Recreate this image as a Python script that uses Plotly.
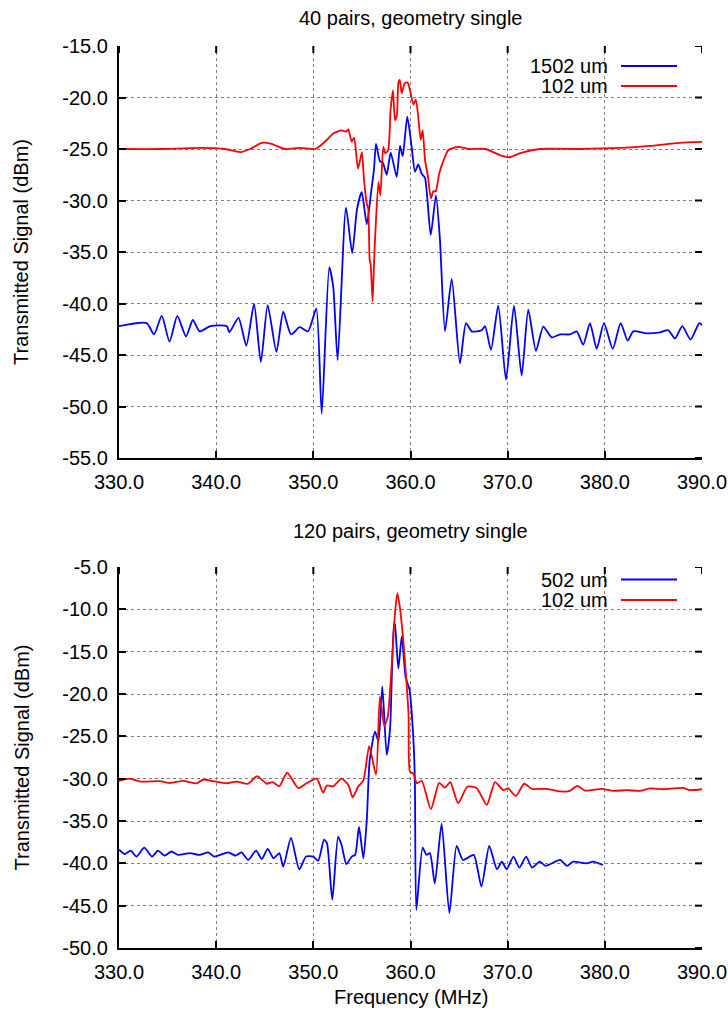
import plotly.graph_objects as go

# ---------------- data ----------------
freq_top_1502 = [330.0, 332.85, 333.6, 334.4, 335.2, 336.0, 336.9, 337.6, 338.3, 339.4, 341.1, 341.35, 342.3, 343.1, 343.9,
                 344.6, 345.3, 346.2, 346.9, 347.7, 348.6, 349.45, 350.3, 350.86, 351.64, 352.05, 352.5, 353.36, 354.0,
                 354.5, 354.98, 355.5, 355.93, 356.24, 356.45, 356.86, 357.14, 357.55, 357.96, 358.58, 358.92, 359.2,
                 359.67, 360.12, 360.46, 360.8, 361.15, 361.49, 362.08, 362.62, 363.03, 363.55, 364.24, 365.09, 365.71,
                 366.3, 367.33, 367.67, 368.28, 369.03, 369.83, 370.65, 371.44, 372.12, 372.91, 373.67, 374.53, 375.38,
                 376.41, 377.1, 377.78, 378.47, 379.16, 379.91, 380.81, 381.63, 382.35, 382.93, 384.31, 385.68, 386.53,
                 387.22, 387.97, 388.83, 389.72, 390.0]
sig_top_1502 = [-42.2, -41.9, -43.0, -41.2, -43.7, -41.2, -43.2, -41.6, -42.7, -42.2, -42.2, -42.8, -41.4, -44.1, -40.05,
                -45.7, -40.15, -44.7, -40.8, -43.0, -42.3, -42.7, -40.5, -50.7, -36.5, -38.4, -45.5, -30.7, -35.1,
                -30.8, -29.2, -32.3, -29.3, -27.0, -24.5, -26.2, -26.3, -27.5, -25.35, -27.7, -24.7, -25.7,
                -21.85, -24.8, -27.2, -26.5, -27.4, -27.8, -33.35, -29.5, -33.8, -42.7, -37.6, -45.8, -41.9,
                -42.7, -42.6, -42.2, -44.5, -40.2, -47.4, -40.2, -47.0, -40.6, -44.6, -42.25, -43.3, -43.0,
                -43.0, -42.7, -44.0, -41.9, -44.4, -41.9, -44.4, -41.9, -43.6, -42.7, -42.9, -42.8, -42.6,
                -43.4, -42.2, -43.5, -41.9, -42.1]

freq_top_102 = [330.0, 334.2, 338.3, 340.9, 342.5, 343.5, 344.7, 345.7, 347.1, 348.6, 350.2, 350.7, 351.4, 352.05, 352.9,
                353.4, 353.6, 353.95, 354.2, 354.6, 355.0, 355.2, 355.5, 355.65, 355.8, 355.9, 356.1, 356.25, 356.35,
                356.7, 356.9, 357.2, 357.4, 357.7, 357.95, 358.2, 358.4, 358.6, 358.75, 358.9, 359.1, 359.4, 359.7,
                359.95, 360.3, 360.55, 360.8, 361.05, 361.25, 361.5, 361.8, 362.1, 362.35, 362.6, 362.95, 363.4,
                363.9, 364.9, 366.1, 367.7, 368.5, 369.2, 370.2, 371.3, 373.3, 377.4, 381.6, 384.6, 387.7, 390.0]
sig_top_102 = [-25.0, -25.0, -24.9, -25.0, -25.3, -25.0, -24.4, -24.5, -25.0, -24.9, -25.0, -24.7, -24.1, -23.5, -23.2,
               -23.3, -23.1, -24.3, -23.9, -26.9, -25.3, -27.8, -30.3, -30.8, -35.8, -36.2, -39.8, -36.0, -33.8,
               -28.2, -29.5, -24.8, -25.4, -25.1, -21.2, -19.3, -22.2, -21.7, -18.6, -18.3, -19.6, -18.6, -18.55,
               -19.3, -20.7, -20.2, -21.9, -24.1, -23.2, -26.1, -27.7, -29.8, -29.1, -29.1, -27.4, -26.1,
               -25.1, -24.8, -25.0, -25.0, -25.3, -25.6, -25.8, -25.4, -25.0, -25.0, -24.9, -24.7, -24.4, -24.3]

freq_bot_502 = [330.0, 330.6, 331.2, 331.8, 332.6, 333.4, 334.0, 334.7, 335.4, 336.1, 337.3, 338.3, 339.2, 339.8,
                341.25, 342.0, 342.6, 343.3, 344.1, 344.7, 345.3, 345.9, 346.5, 346.9, 347.7, 348.55, 349.25, 350.0,
                350.5, 351.1, 351.4, 351.95, 352.55, 352.9, 353.4, 353.95, 354.3, 354.7, 355.15, 355.5, 355.8,
                356.35, 356.7, 357.1, 357.55, 357.9, 358.3, 358.4, 358.75, 359.1, 359.5, 359.9, 360.3, 360.45,
                360.6, 361.25, 361.65, 362.0, 362.5, 363.2, 364.0, 364.75, 365.4, 366.5, 367.3, 368.1, 368.9,
                369.4, 369.9, 370.6, 371.2, 371.9, 372.5, 373.3, 373.9, 375.4, 376.1, 376.75, 378.1, 378.8, 379.8]
sig_bot_502 = [-38.4, -38.9, -38.5, -39.2, -38.15, -39.2, -38.5, -39.1, -38.6, -39.0, -38.8, -39.0, -38.7, -39.2,
               -38.7, -39.1, -38.7, -39.6, -38.5, -39.5, -38.3, -39.4, -38.8, -40.4, -37.0, -40.7, -39.2, -39.2,
               -39.7, -37.2, -37.6, -44.3, -36.85, -37.8, -40.1, -39.2, -39.0, -35.7, -39.4, -34.9, -27.8,
               -24.45, -25.6, -19.1, -27.2, -24.05, -11.65, -11.85, -17.0, -13.2, -18.0, -19.5, -25.4, -30.2,
               -45.5, -38.15, -39.0, -38.8, -42.4, -35.3, -45.9, -37.95, -39.6, -39.0, -42.75, -37.95, -40.7,
               -39.8, -40.7, -39.2, -40.5, -39.2, -40.5, -39.8, -40.3, -39.6, -40.3, -39.8, -40.0, -39.8, -40.2]

freq_bot_102 = [330.0, 331.1, 332.2, 334.2, 335.25, 336.6, 338.0, 338.7, 339.7, 341.1, 342.1, 343.3, 344.2, 345.2,
                345.8, 346.5, 347.3, 348.45, 349.3, 350.35, 351.0, 351.4, 352.05, 352.9, 353.6, 354.05, 354.6,
                355.15, 355.75, 356.45, 356.85, 357.3, 357.65, 358.05, 358.4, 358.65, 358.9, 359.25, 359.55, 359.8,
                359.95, 360.3, 360.65, 361.15, 362.1, 362.95, 363.55, 364.1, 364.9, 365.85, 366.8, 367.85, 368.7,
                369.55, 370.05, 370.85, 371.7, 372.5, 374.0, 375.4, 376.4, 377.15, 377.95, 379.7, 380.9, 382.25,
                383.6, 384.65, 386.0, 388.05, 388.75, 390.0]
sig_bot_102 = [-30.25, -30.0, -30.35, -30.3, -30.5, -30.25, -30.55, -30.1, -30.3, -30.55, -30.35, -30.6, -29.7, -30.6,
               -30.4, -30.9, -29.3, -31.1, -30.55, -30.0, -31.65, -30.8, -30.9, -30.0, -30.75, -32.2, -30.95,
               -30.2, -26.15, -29.55, -20.3, -23.8, -22.7, -17.0, -10.5, -8.1, -9.7, -13.55, -18.0, -22.5,
               -29.2, -29.4, -30.55, -30.25, -33.6, -30.5, -31.05, -30.4, -32.9, -30.95, -31.1, -33.1, -30.4,
               -31.35, -31.15, -32.05, -30.6, -31.2, -31.2, -31.5, -31.45, -30.85, -31.4, -31.2, -31.45, -31.35,
               -31.45, -31.15, -31.25, -31.1, -31.35, -31.25]

x_ticks = [330, 340, 350, 360, 370, 380, 390]
y_ticks_top = [-55, -50, -45, -40, -35, -30, -25, -20, -15]
y_ticks_bot = [-50, -45, -40, -35, -30, -25, -20, -15, -10, -5]

title_top = "40 pairs, geometry single"
title_bot = "120 pairs, geometry single"
legend_top = ["1502 um", "102 um"]
legend_bot = ["502 um", "102 um"]
x_title = "Frequency (MHz)"
y_title = "Transmitted Signal (dBm)"

# ---------------- layout geometry (pixels) ----------------
W, H = 728, 1013
PX_L, PX_R = 119, 702
TOP_T, TOP_B = 46, 458
BOT_T, BOT_B = 567, 948
FONT = "Liberation Sans, Arial, sans-serif"
FS = 20
BLUE, RED = "#0000ff", "#ff0000"

xdom = [PX_L / W, PX_R / W]
ydom_top = [1 - TOP_B / H, 1 - TOP_T / H]
ydom_bot = [1 - BOT_B / H, 1 - BOT_T / H]

fig = go.Figure()
lw = 1.8
fig.add_trace(go.Scatter(x=freq_top_1502, y=sig_top_1502, mode="lines", name=legend_top[0],
                         line=dict(color=BLUE, width=lw, shape="spline", smoothing=0.6), xaxis="x", yaxis="y"))
fig.add_trace(go.Scatter(x=freq_top_102, y=sig_top_102, mode="lines", name=legend_top[1],
                         line=dict(color=RED, width=lw, shape="spline", smoothing=0.6), xaxis="x", yaxis="y"))
fig.add_trace(go.Scatter(x=freq_bot_502, y=sig_bot_502, mode="lines", name=legend_bot[0],
                         line=dict(color=BLUE, width=lw, shape="spline", smoothing=0.6), xaxis="x2", yaxis="y2"))
fig.add_trace(go.Scatter(x=freq_bot_102, y=sig_bot_102, mode="lines", name=legend_bot[1],
                         line=dict(color=RED, width=lw, shape="spline", smoothing=0.6), xaxis="x2", yaxis="y2"))

common = dict(showline=True, linecolor="black", linewidth=2.2, ticks="inside", ticklen=7, tickwidth=2,
              tickcolor="black", showgrid=True, gridcolor="#808080", griddash="dot", gridwidth=1,
              zeroline=False, tickfont=dict(family=FONT, size=FS, color="black"), ticklabelstandoff=5,
              automargin=False)

def xax(anchor):
    return dict(common, domain=xdom, range=[330, 390], anchor=anchor, tickmode="array",
                tickvals=x_ticks, ticktext=[f"{v:.1f}" for v in x_ticks])

def yax(anchor, dom, ticks):
    return dict(common, domain=dom, range=[ticks[0], ticks[-1]], anchor=anchor, tickmode="array",
                tickvals=ticks, ticktext=[f"{v:.1f}" for v in ticks])

shapes = []
annotations = []

def mirror_ticks(xr, yr, yt, ph):
    pw = PX_R - PX_L
    for v in x_ticks:
        shapes.append(dict(type="line", xref=xr, yref=yr + " domain", x0=v, x1=v, y0=1, y1=1 - 7 / ph,
                           line=dict(color="black", width=2)))
    for v in yt:
        shapes.append(dict(type="line", xref=xr + " domain", yref=yr, x0=1, x1=1 - 7 / pw, y0=v, y1=v,
                           line=dict(color="black", width=2)))

mirror_ticks("x", "y", y_ticks_top, TOP_B - TOP_T)
mirror_ticks("x2", "y2", y_ticks_bot, BOT_B - BOT_T)

def legend(xr, yr, names, colors, ph, y_first_px, gap_px):
    for i, (n, c) in enumerate(zip(names, colors)):
        yd = 1 - (y_first_px + i * gap_px) / ph
        annotations.append(dict(text=n, xref=xr + " domain", yref=yr + " domain", x=(609 - PX_L) / (PX_R - PX_L),
                                y=yd, xanchor="right", yanchor="middle", showarrow=False, borderpad=0,
                                font=dict(family=FONT, size=FS, color="black")))
        shapes.append(dict(type="line", xref=xr + " domain", yref=yr + " domain",
                           x0=(621 - PX_L) / (PX_R - PX_L), x1=(677 - PX_L) / (PX_R - PX_L), y0=yd, y1=yd,
                           line=dict(color=c, width=2)))

legend("x", "y", legend_top, [BLUE, RED], TOP_B - TOP_T, 66 - TOP_T, 20)
legend("x2", "y2", legend_bot, [BLUE, RED], BOT_B - BOT_T, 579.5 - BOT_T, 20.5)

def txt(t, x, y, angle=0):
    annotations.append(dict(text=t, xref="paper", yref="paper", x=x / W, y=1 - y / H, xanchor="center",
                            yanchor="middle", showarrow=False, textangle=angle,
                            font=dict(family=FONT, size=FS, color="black")))

cx = (PX_L + PX_R) / 2
txt(title_top, cx, 18)
txt(title_bot, cx, 531)
txt(x_title, cx, 997)
txt(y_title, 21, (TOP_T + TOP_B) / 2, -90)
txt(y_title, 21, (BOT_T + BOT_B) / 2, -90)

fig.update_layout(
    width=W, height=H, margin=dict(l=0, r=0, t=0, b=0, autoexpand=False),
    paper_bgcolor="white", plot_bgcolor="white", showlegend=False,
    xaxis=xax("y"), yaxis=yax("x", ydom_top, y_ticks_top),
    xaxis2=xax("y2"), yaxis2=yax("x2", ydom_bot, y_ticks_bot),
    shapes=shapes, annotations=annotations,
)

fig.write_html("out.html")
